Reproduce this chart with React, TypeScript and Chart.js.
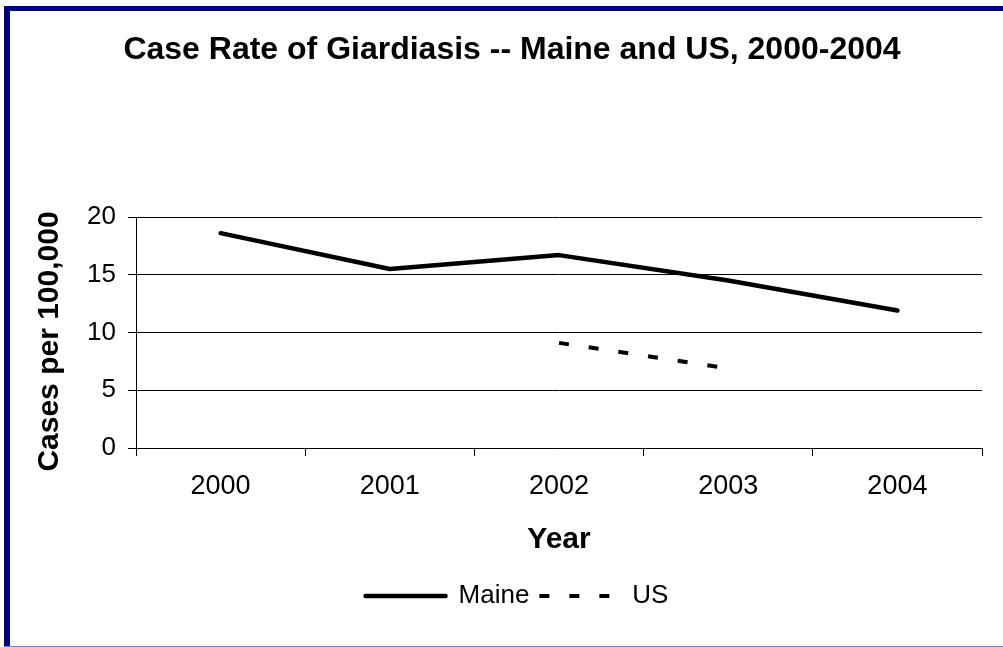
import React, { useEffect, useRef } from "react";
import { Chart, registerables } from "chart.js";

Chart.register(...registerables);

const years = ["2000", "2001", "2002", "2003", "2004"];
const maineRates = [18.6, 15.5, 16.7, 14.5, 11.9];
const usRates = [null, null, 9.1, 6.9, null];
const yTickValues = [0, 5, 10, 15, 20];

const chartTitle = "Case Rate of Giardiasis -- Maine and US, 2000-2004";
const xTitle = "Year";
const yTitle = "Cases per 100,000";

const FONT = '"Liberation Sans", Arial, Helvetica, sans-serif';

const framePlugin = {
  id: "frame",
  beforeDraw(chart: any) {
    const ctx = chart.ctx;
    ctx.save();
    ctx.fillStyle = "#000080";
    ctx.fillRect(4, 6, chart.width - 4, 5);
    ctx.fillRect(4, 6, 6, chart.height - 6);
    ctx.fillStyle = "#8080c0";
    ctx.fillRect(4, chart.height - 1, chart.width - 4, 1);
    ctx.restore();
  },
};

const shiftPlugin = {
  id: "shiftBoxes",
  afterLayout(chart: any) {
    const lg = chart.legend;
    if (lg) {
      lg.left += 21;
      lg.right += 21;
    }
    const t = chart.titleBlock;
    if (t) {
      t.left += 16;
      t.right += 16;
    }
    const ys = chart.scales.y;
    if (ys && !ys.__titleShifted) {
      const orig = ys.drawTitle.bind(ys);
      ys.drawTitle = (...args: any[]) => {
        const ctx = chart.ctx;
        ctx.save();
        ctx.translate(0, 9);
        orig(...args);
        ctx.restore();
      };
      ys.__titleShifted = true;
    }
  },
};

export default function App() {
  const ref = useRef<HTMLCanvasElement>(null);

  useEffect(() => {
    if (!ref.current) return;
    const chart = new Chart(ref.current, {
      type: "line",
      data: {
        labels: years,
        datasets: [
          {
            label: "Maine",
            data: maineRates,
            borderColor: "#000",
            backgroundColor: "#000",
            borderWidth: 4.5,
            pointRadius: 0,
            pointHoverRadius: 0,
            borderCapStyle: "round",
            borderJoinStyle: "round",
            tension: 0,
            fill: false,
          },
          {
            label: "US",
            data: usRates,
            borderColor: "#000",
            backgroundColor: "#000",
            borderWidth: 4,
            borderDash: [10, 20],
            pointRadius: 0,
            pointHoverRadius: 0,
            borderCapStyle: "butt",
            tension: 0,
            fill: false,
            spanGaps: false,
          },
        ],
      },
      options: {
        animation: false,
        responsive: false,
        maintainAspectRatio: false,
        layout: { padding: { top: 0, left: 10, right: 21, bottom: 28 } },
        plugins: {
          title: {
            display: true,
            text: chartTitle,
            color: "#000",
            font: { family: FONT, size: 32, weight: "bold" },
            padding: { top: 31, bottom: 147.6 },
          },
          legend: {
            position: "bottom",
            labels: {
              color: "#000",
              font: { family: FONT, size: 26 },
              usePointStyle: true,
              pointStyle: "line",
              pointStyleWidth: 80,
              padding: 10,
              generateLabels: (c: any) => {
                const items = (Chart.defaults.plugins.legend.labels as any).generateLabels(c);
                return items.map((it: any, i: number) => {
                  const ds: any = c.data.datasets[it.datasetIndex ?? i];
                  return {
                    ...it,
                    strokeStyle: ds.borderColor,
                    fillStyle: ds.borderColor,
                    lineWidth: ds.borderWidth,
                    lineCap: ds.borderCapStyle,
                    lineDash: ds.borderDash || [],
                    lineDashOffset: 0,
                  };
                });
              },
            },
          },
          tooltip: { enabled: false },
        },
        scales: {
          x: {
            type: "category",
            offset: true,
            grid: {
              offset: true,
              drawOnChartArea: false,
              drawTicks: true,
              tickLength: 8,
              color: "#000",
              lineWidth: 1,
            },
            border: { display: true, color: "#000", width: 1 },
            ticks: {
              color: "#000",
              font: { family: FONT, size: 27 },
              padding: 14,
              maxRotation: 0,
              autoSkip: false,
            },
            title: {
              display: true,
              text: xTitle,
              color: "#000",
              font: { family: FONT, size: 30, weight: "bold" },
              padding: { top: 20, bottom: 15 },
            },
            afterFit: (s: any) => {
              s.height = 125;
            },
          },
          y: {
            min: 0,
            max: 20,
            grid: { color: "#000", lineWidth: 1, tickLength: 8, drawTicks: true },
            border: { display: true, color: "#000", width: 1 },
            ticks: {
              color: "#000",
              font: { family: FONT, size: 26 },
              padding: 12,
              stepSize: 5,
            },
            afterBuildTicks: (s: any) => {
              s.ticks = yTickValues.map((v) => ({ value: v }));
            },
            title: {
              display: true,
              text: yTitle,
              color: "#000",
              font: { family: FONT, size: 30, weight: "bold" },
              padding: { top: 22, bottom: 20 },
            },
            afterFit: (s: any) => {
              s.width = 126;
            },
          },
        },
      } as any,
      plugins: [framePlugin, shiftPlugin],
    });
    return () => chart.destroy();
  }, []);

  return (
    <div
      style={{
        position: "fixed",
        left: 0,
        top: 0,
        width: 1003,
        height: 647,
        background: "#fff",
      }}
    >
      <canvas ref={ref} width={1003} height={647} style={{ display: "block" }} />
    </div>
  );
}
